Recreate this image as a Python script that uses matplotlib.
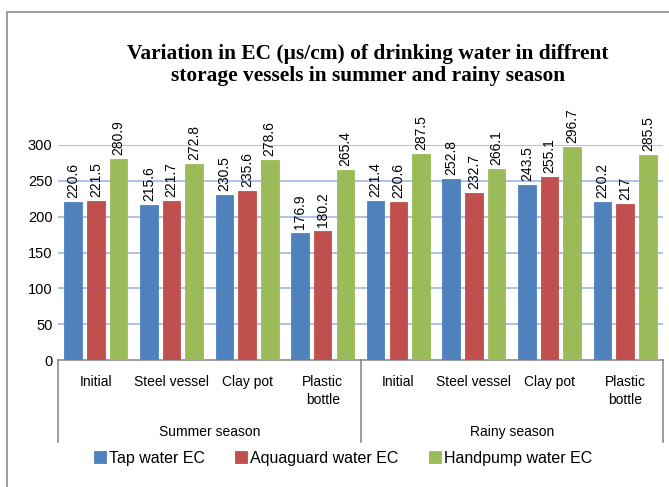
import matplotlib
matplotlib.use("Agg")
import matplotlib.pyplot as plt
import numpy as np
from matplotlib.patches import Rectangle
from matplotlib.lines import Line2D

categories = ["Initial", "Steel vessel", "Clay pot", "Plastic\nbottle",
              "Initial", "Steel vessel", "Clay pot", "Plastic\nbottle"]
seasons = ["Summer season", "Rainy season"]
series_names = ["Tap water EC", "Aquaguard water EC", "Handpump water EC"]
tap = [220.6, 215.6, 230.5, 176.9, 221.4, 252.8, 243.5, 220.2]
aquaguard = [221.5, 221.7, 235.6, 180.2, 220.6, 232.7, 255.1, 217]
handpump = [280.9, 272.8, 278.6, 265.4, 287.5, 266.1, 296.7, 285.5]
colors = ["#4f81bd", "#c0504d", "#9bbb59"]
yticks = [0, 50, 100, 150, 200, 250, 300]

W, H = 669, 487
fig = plt.figure(figsize=(W / 100, H / 100), dpi=100)
plt.rcParams['font.family'] = ['Liberation Sans', 'DejaVu Sans']

# outer chart border
fig.add_artist(Rectangle((7 / W, -0.05), 1.2, (H - 12) / H + 0.05, transform=fig.transFigure,
                         fill=False, edgecolor="#8c8c8c", linewidth=1.2))

ax_l, ax_r, ax_b, ax_t = 58, 663, 360, 145
ax = fig.add_axes([ax_l / W, (H - ax_b) / H, (ax_r - ax_l) / W, (ax_b - ax_t) / H])

x = np.arange(len(categories))
spacing = 0.30
width = 0.232
all_series = [tap, aquaguard, handpump]
for i, (vals, name, c) in enumerate(zip(all_series, series_names, colors)):
    pos = x + (i - 1) * spacing
    bars = ax.bar(pos, vals, width, color=c, label=name, zorder=3,
                  edgecolor=c, linewidth=0.6)
    for b, v in zip(bars, vals):
        ax.annotate(f"{v:g}", (b.get_x() + b.get_width() / 2, v),
                    xytext=(0, 3), textcoords="offset points",
                    rotation=90, ha="center", va="bottom", fontsize=10,
                    color="black", annotation_clip=False)

ax.set_xlim(-0.5, len(categories) - 0.5)
ax.set_ylim(0, 300)
ax.set_yticks(yticks)
ax.set_yticklabels([str(t) for t in yticks], fontsize=10.5)
ax.tick_params(axis="y", length=0, pad=4)
ax.set_xticks([])
for s in ["left", "right", "top"]:
    ax.spines[s].set_visible(False)
ax.spines["bottom"].set_color("#8c8c8c")
ax.spines["bottom"].set_linewidth(1.2)
for t in yticks[1:]:
    ax.axhline(t, color="#9fb8e4", linewidth=1.2, zorder=1)

# multi-level category axis
axh = ax_b - ax_t
def ay(px):
    return (ax_b - px) / axh

trans = ax.get_xaxis_transform()
for xi, cat in zip(x, categories):
    ax.text(xi, ay(375), cat, transform=trans, ha="center", va="top",
            fontsize=10, linespacing=1.35)
for k, s in enumerate(seasons):
    ax.text(4 * k + 1.5, ay(432), s, transform=trans, ha="center", va="center",
            fontsize=10)
for xs in [-0.5, 3.5, 7.5]:
    ax.add_line(Line2D([xs, xs], [0, ay(442)], transform=trans, color="#8c8c8c",
                       linewidth=1.2, clip_on=False))

# title
fig.text(368 / W, 1 - 65 / H, "Variation in EC (\u00b5s/cm) of drinking water in diffrent\nstorage vessels in summer and rainy season",
         ha="center", va="center", multialignment="center", fontsize=15.4,
         fontweight="bold", family="Liberation Serif", linespacing=1.2)

# legend
handles, labels = ax.get_legend_handles_labels()
fig.legend(handles, labels, loc="center", bbox_to_anchor=(343 / W, 1 - 458 / H),
           ncol=3, frameon=False, fontsize=11.5, handlelength=0.75, handleheight=0.75,
           handletextpad=0.2, columnspacing=1.9, borderaxespad=0)

fig.savefig("out.png", dpi=100)
